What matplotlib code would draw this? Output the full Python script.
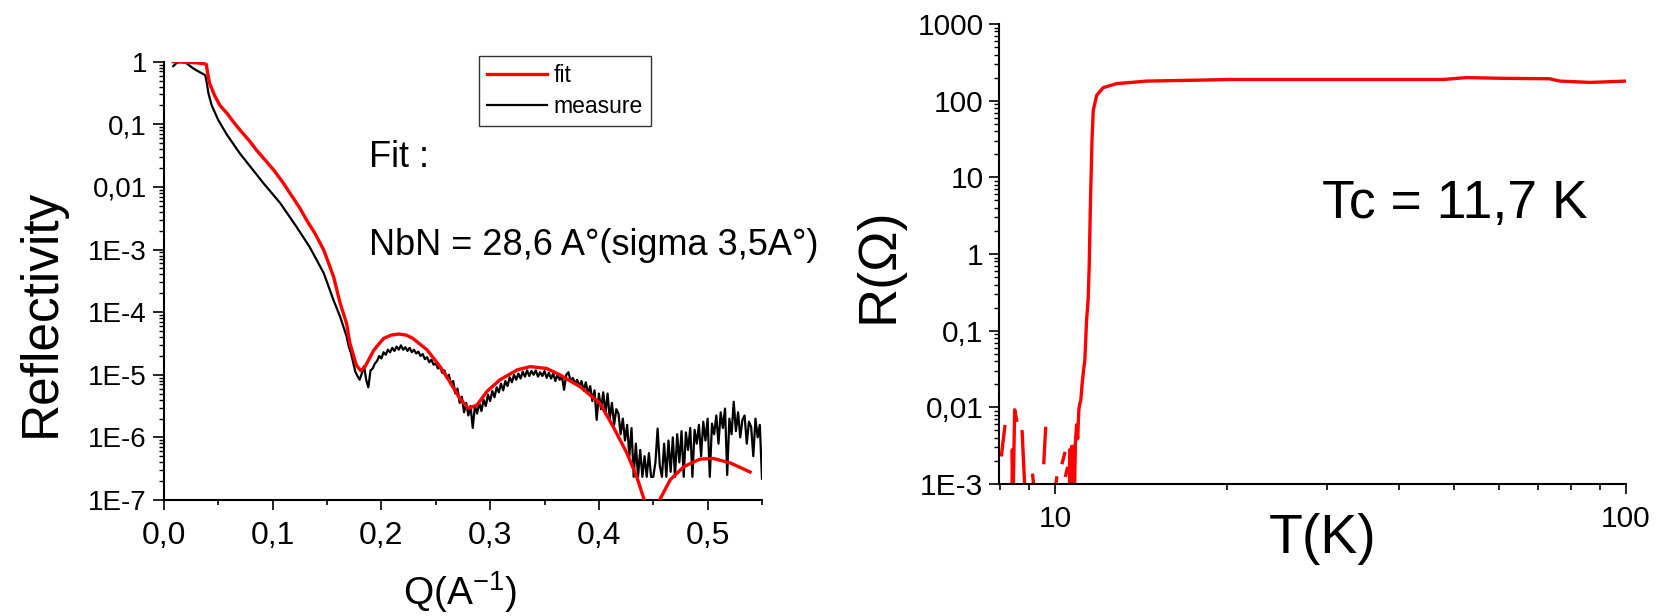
import numpy as np
import matplotlib
matplotlib.use("Agg")
import matplotlib.pyplot as plt
from matplotlib.ticker import LogLocator, NullFormatter, FixedLocator, MultipleLocator

plt.rcParams['font.family'] = ['Liberation Sans', 'DejaVu Sans']
plt.rcParams['mathtext.fontset'] = 'custom'
plt.rcParams['mathtext.rm'] = 'Liberation Sans'
plt.rcParams['mathtext.it'] = 'Liberation Sans:italic'
plt.rcParams['mathtext.bf'] = 'Liberation Sans:bold'

# ---------------- data: left panel (reflectivity) ----------------
fit_q = [0.0086, 0.020, 0.030, 0.037, 0.039, 0.0405, 0.042, 0.047, 0.0516, 0.058, 0.0638,
         0.070, 0.0792, 0.085, 0.0946, 0.101, 0.110, 0.116, 0.125, 0.131, 0.139, 0.147,
         0.156, 0.162, 0.168, 0.171, 0.177, 0.181, 0.185, 0.193, 0.202,
         0.209, 0.216, 0.223, 0.229, 0.242, 0.254, 0.263, 0.272, 0.280, 0.288, 0.297,
         0.309, 0.325, 0.337, 0.352, 0.364, 0.383, 0.401, 0.413, 0.426, 0.435, 0.4417,
         0.447, 0.451, 0.4558, 0.4656, 0.478, 0.493, 0.5055, 0.521, 0.539]
fit_r = [1.0, 0.98, 0.96, 0.93, 0.90, 0.62, 0.45, 0.28, 0.20, 0.15, 0.11,
         0.081, 0.053, 0.039, 0.025, 0.0186, 0.0114, 0.0079, 0.0046, 0.0030, 0.0018, 9.8e-4,
         3.7e-4, 1.4e-4, 6.6e-5, 3.2e-5, 1.42e-5, 1.16e-5, 1.35e-5, 2.47e-5, 3.8e-5,
         4.3e-5, 4.47e-5, 4.3e-5, 3.8e-5, 2.5e-5, 1.35e-5, 7.7e-6, 4.2e-6, 2.9e-6, 3.3e-6, 5.4e-6,
         8.3e-6, 1.2e-5, 1.35e-5, 1.26e-5, 1.0e-5, 6.4e-6, 3.5e-6, 1.5e-6, 5.5e-7, 2.3e-7, 1.0e-7,
         1e-8, 1e-8, 1.0e-7, 2.1e-7, 3.4e-7, 4.5e-7, 4.6e-7, 3.9e-7, 2.8e-7]

measure_q_head = [0.0086, 0.0118, 0.016, 0.021, 0.027, 0.033, 0.038, 0.039, 0.041, 0.044,
                  0.050, 0.058, 0.070, 0.082, 0.0915, 0.107, 0.122, 0.134, 0.147, 0.156,
                  0.162, 0.168]
measure_r_head = [0.85, 0.96, 1.0, 0.94, 0.78, 0.68, 0.61, 0.51, 0.31, 0.20,
                  0.117, 0.068, 0.034, 0.0186, 0.0115, 0.0055, 0.0023, 0.0011, 4.2e-4, 1.55e-4,
                  8.5e-5, 4.1e-5]

measure_q_tail = [
    0.170, 0.172, 0.174, 0.176, 0.178, 0.180, 0.182, 0.184, 0.186, 0.188,
    0.190, 0.192, 0.194, 0.196, 0.198, 0.200, 0.202, 0.204, 0.206, 0.208,
    0.210, 0.212, 0.214, 0.216, 0.218, 0.220, 0.222, 0.224, 0.226, 0.228,
    0.230, 0.232, 0.234, 0.236, 0.238, 0.240, 0.242, 0.244, 0.246, 0.248,
    0.250, 0.252, 0.254, 0.256, 0.258, 0.260, 0.262, 0.264, 0.266, 0.268,
    0.270, 0.272, 0.274, 0.276, 0.278, 0.280, 0.282, 0.284, 0.286, 0.288,
    0.290, 0.292, 0.294, 0.296, 0.298, 0.300, 0.302, 0.304, 0.306, 0.308,
    0.310, 0.312, 0.314, 0.316, 0.318, 0.320, 0.322, 0.324, 0.326, 0.328,
    0.330, 0.332, 0.334, 0.336, 0.338, 0.340, 0.342, 0.344, 0.346, 0.348,
    0.350, 0.352, 0.354, 0.356, 0.358, 0.360, 0.362, 0.364, 0.366, 0.368,
    0.370, 0.372, 0.374, 0.376, 0.378, 0.380, 0.382, 0.384, 0.386, 0.388,
    0.390, 0.392, 0.394, 0.396, 0.398, 0.400, 0.402, 0.404, 0.406, 0.408,
    0.410, 0.412, 0.414, 0.416, 0.418, 0.420, 0.422, 0.424, 0.426, 0.428,
    0.430, 0.432, 0.434, 0.436, 0.438, 0.440, 0.442, 0.444, 0.446, 0.448,
    0.450, 0.452, 0.454, 0.456, 0.458, 0.460, 0.462, 0.464, 0.466, 0.468,
    0.470, 0.472, 0.474, 0.476, 0.478, 0.480, 0.482, 0.484, 0.486, 0.488,
    0.490, 0.492, 0.494, 0.496, 0.498, 0.500, 0.502, 0.504, 0.506, 0.508,
    0.510, 0.512, 0.514, 0.516, 0.518, 0.520, 0.522, 0.524, 0.526, 0.528,
    0.530, 0.532, 0.534, 0.536, 0.538, 0.540, 0.542, 0.544, 0.546, 0.548,
    0.550]
measure_log10r_tail = [
    -4.55, -4.65, -4.80, -4.95, -5.02, -5.08, -4.98, -4.86, -5.08, -5.20,
    -4.93, -4.90, -4.82, -4.78, -4.70, -4.74, -4.64, -4.68, -4.60, -4.64,
    -4.57, -4.62, -4.55, -4.60, -4.53, -4.60, -4.56, -4.62, -4.57, -4.64,
    -4.60, -4.66, -4.63, -4.70, -4.67, -4.75, -4.72, -4.80, -4.76, -4.84,
    -4.82, -4.90, -4.88, -4.97, -4.93, -5.05, -5.00, -5.15, -5.10, -5.30,
    -5.22, -5.45, -5.35, -5.60, -5.45, -5.65, -5.50, -5.85, -5.50, -5.62,
    -5.45, -5.58, -5.40, -5.50, -5.32, -5.42, -5.26, -5.36, -5.20, -5.28,
    -5.14, -5.25, -5.10, -5.18, -5.04, -5.12, -5.00, -5.08, -4.98, -5.06,
    -4.95, -5.03, -4.93, -5.02, -4.94, -5.00, -4.93, -5.03, -4.96, -5.02,
    -4.94, -5.05, -4.97, -5.06, -4.98, -5.10, -5.00, -5.08, -5.02, -5.24,
    -5.00, -4.96, -5.10, -5.05, -5.14, -5.08, -5.18, -5.10, -5.25, -5.12,
    -5.30, -5.18, -5.42, -5.25, -5.72, -5.30, -5.55, -5.28, -5.62, -5.30,
    -5.70, -5.45, -5.80, -5.55, -5.62, -5.95, -5.70, -6.05, -5.80, -6.30,
    -5.85, -6.63, -6.10, -6.63, -6.20, -6.63, -6.30, -6.63, -6.25, -6.63,
    -6.63, -6.40, -5.86, -6.45, -6.63, -6.10, -6.63, -6.05, -6.55, -6.00,
    -6.63, -5.95, -6.40, -5.90, -6.63, -5.92, -6.20, -5.85, -6.63, -5.88,
    -6.10, -5.80, -6.30, -5.75, -6.05, -5.70, -6.63, -5.78, -5.95, -5.65,
    -6.10, -5.60, -5.85, -5.54, -6.60, -5.70, -5.95, -5.43, -5.90, -5.60,
    -6.00, -5.72, -5.65, -6.10, -5.75, -5.83, -6.30, -5.70, -6.00, -5.80,
    -6.66]

left_yticks = [1e-7, 1e-6, 1e-5, 1e-4, 1e-3, 1e-2, 1e-1, 1]
left_yticklabels = ['1E-7', '1E-6', '1E-5', '1E-4', '1E-3', '0,01', '0,1', '1']
left_xticks = [0.0, 0.1, 0.2, 0.3, 0.4, 0.5]
left_xticklabels = ['0,0', '0,1', '0,2', '0,3', '0,4', '0,5']

# ---------------- data: right panel (R vs T) ----------------
nan = float('nan')
rt_T = [8.06, 8.17, nan,
        8.41, 8.42, 8.45, 8.50, 8.57, nan,
        8.76, 8.86, nan,
        9.14, 9.20, nan,
        9.56, 9.63, nan,
        10.00, 10.07, nan,
        10.30, 10.40, nan,
        10.44, 10.51, nan,
        10.60, 10.62, 10.67, 10.70, 10.74, 10.78, 10.82, 10.86, 10.91, 10.96,
        11.01, 11.05, 11.10, 11.16, 11.22, 11.28, 11.36, 11.43, 11.48, 11.54,
        11.61, 11.67, 11.83, 12.15, 12.83, 14.47, 17.7, 20.3, 26.9, 37.6,
        47.9, 52.6, 60.0, 73.5, 76.6, 86.6, 100.0]
rt_R = [0.0024, 0.0056, nan,
        8e-4, 0.0028, 8e-4, 0.0093, 0.0068, nan,
        0.0048, 8e-4, nan,
        0.0013, 8e-4, nan,
        0.0019, 0.0053, nan,
        8e-4, 0.0012, nan,
        0.0019, 0.0025, nan,
        0.0013, 0.0016, nan,
        8e-4, 0.0028, 8e-4, 0.0031, 8e-4, 0.0031, 8e-4, 0.0035, 0.0059, 0.0039,
        0.0092, 0.0110, 0.0125, 0.0206, 0.030, 0.041, 0.137, 0.25, 0.68, 5.0,
        30.5, 75, 117, 148, 167, 180, 185, 189, 189, 189,
        189, 200, 196, 193, 180, 173, 180]

right_yticks = [1e-3, 1e-2, 1e-1, 1, 10, 100, 1000]
right_yticklabels = ['1E-3', '0,01', '0,1', '1', '10', '100', '1000']
right_xticks = [10, 100]
right_xticklabels = ['10', '100']

# ---------------- figure ----------------
W, H = 1662, 616
fig = plt.figure(figsize=(W / 100, H / 100), dpi=100)


def fx(px):
    return px / W


def fy(py):
    return 1 - py / H


def style_axes(ax):
    for s in ('top', 'right'):
        ax.spines[s].set_visible(False)
    for s in ('left', 'bottom'):
        ax.spines[s].set_linewidth(1.5)


# Left panel
ax1 = fig.add_axes([fx(163.9), fy(500), fx(762) - fx(163.9), fy(61.7) - fy(500)])
style_axes(ax1)
ax1.set_yscale('log')
meas_q = list(measure_q_head) + list(measure_q_tail)
meas_r = list(measure_r_head) + list(10.0 ** np.array(measure_log10r_tail))
l_fit, = ax1.plot(fit_q, fit_r, color='#ff0000', lw=2.4, label='fit', zorder=3,
                  solid_joinstyle='round')
l_meas, = ax1.plot(meas_q, meas_r, color='black', lw=1.6, label='measure', zorder=2)
ax1.set_xlim(0, 0.55)
ax1.set_ylim(1e-7, 1)
ax1.yaxis.set_major_locator(FixedLocator(left_yticks))
ax1.set_yticklabels(left_yticklabels)
ax1.yaxis.set_minor_locator(LogLocator(base=10, subs=np.arange(2, 10), numticks=20))
ax1.yaxis.set_minor_formatter(NullFormatter())
ax1.set_xticks(left_xticks)
ax1.set_xticklabels(left_xticklabels)
ax1.xaxis.set_minor_locator(MultipleLocator(0.05))
ax1.tick_params(axis='y', which='major', direction='out', length=7.7, width=1.2,
                labelsize=20, pad=4.5)
ax1.tick_params(axis='y', which='minor', direction='out', length=3.6, width=1.0)
ax1.tick_params(axis='x', which='major', direction='out', length=7.2, width=1.2,
                labelsize=23, pad=8.0)
ax1.tick_params(axis='x', which='minor', direction='out', length=3.6, width=1.2)

leg = ax1.legend(handles=[l_fit, l_meas], loc='upper left',
                 bbox_to_anchor=(fx(479), fy(56)), bbox_transform=fig.transFigure,
                 fontsize=16.5, handlelength=2.6, handletextpad=0.3, labelspacing=0.35,
                 borderpad=0.35, borderaxespad=0, fancybox=False, frameon=True,
                 framealpha=1)
leg.get_frame().set_edgecolor('#333333')
leg.get_frame().set_linewidth(1.0)

fig.text(fx(41), fy(312.5), 'Reflectivity', rotation=90, ha='center', va='center', fontsize=37)
fig.text(fx(460), fy(605), r'Q(A$^{\mathrm{-1}}$)', ha='center', va='baseline', fontsize=28)
fig.text(fx(369), fy(167), 'Fit :', ha='left', va='baseline', fontsize=26)
fig.text(fx(369), fy(255), 'NbN = 28,6 A°(sigma 3,5A°)', ha='left', va='baseline', fontsize=26)

# Right panel
ax2 = fig.add_axes([fx(999), fy(484), fx(1626) - fx(999), fy(24) - fy(484)])
style_axes(ax2)
ax2.set_xscale('log')
ax2.set_yscale('log')
ax2.plot(rt_T, rt_R, color='#ff0000', lw=2.4)
ax2.set_xlim(7.98, 100)
ax2.set_ylim(1e-3, 1e3)
ax2.yaxis.set_major_locator(FixedLocator(right_yticks))
ax2.set_yticklabels(right_yticklabels)
ax2.yaxis.set_minor_locator(LogLocator(base=10, subs=np.arange(2, 10), numticks=20))
ax2.yaxis.set_minor_formatter(NullFormatter())
ax2.xaxis.set_major_locator(FixedLocator(right_xticks))
ax2.set_xticklabels(right_xticklabels)
ax2.xaxis.set_minor_locator(LogLocator(base=10, subs=np.arange(2, 10), numticks=20))
ax2.xaxis.set_minor_formatter(NullFormatter())
ax2.tick_params(axis='both', which='major', direction='out', length=7.2, width=1.2,
                labelsize=21.5)
ax2.tick_params(axis='y', which='major', pad=4.0)
ax2.tick_params(axis='x', which='major', pad=8.0)
ax2.tick_params(axis='y', which='minor', direction='out', length=3.6, width=1.0)
ax2.tick_params(axis='x', which='minor', direction='out', length=4.3, width=1.2)

fig.text(fx(878), fy(265.5), 'R(Ω)', rotation=90, ha='center', va='center', fontsize=39)
fig.text(fx(1322.5), fy(553), 'T(K)', ha='center', va='baseline', fontsize=40)
fig.text(fx(1322), fy(218), 'Tc = 11,7 K', ha='left', va='baseline', fontsize=38.5)

fig.savefig('out.png', dpi=100)
